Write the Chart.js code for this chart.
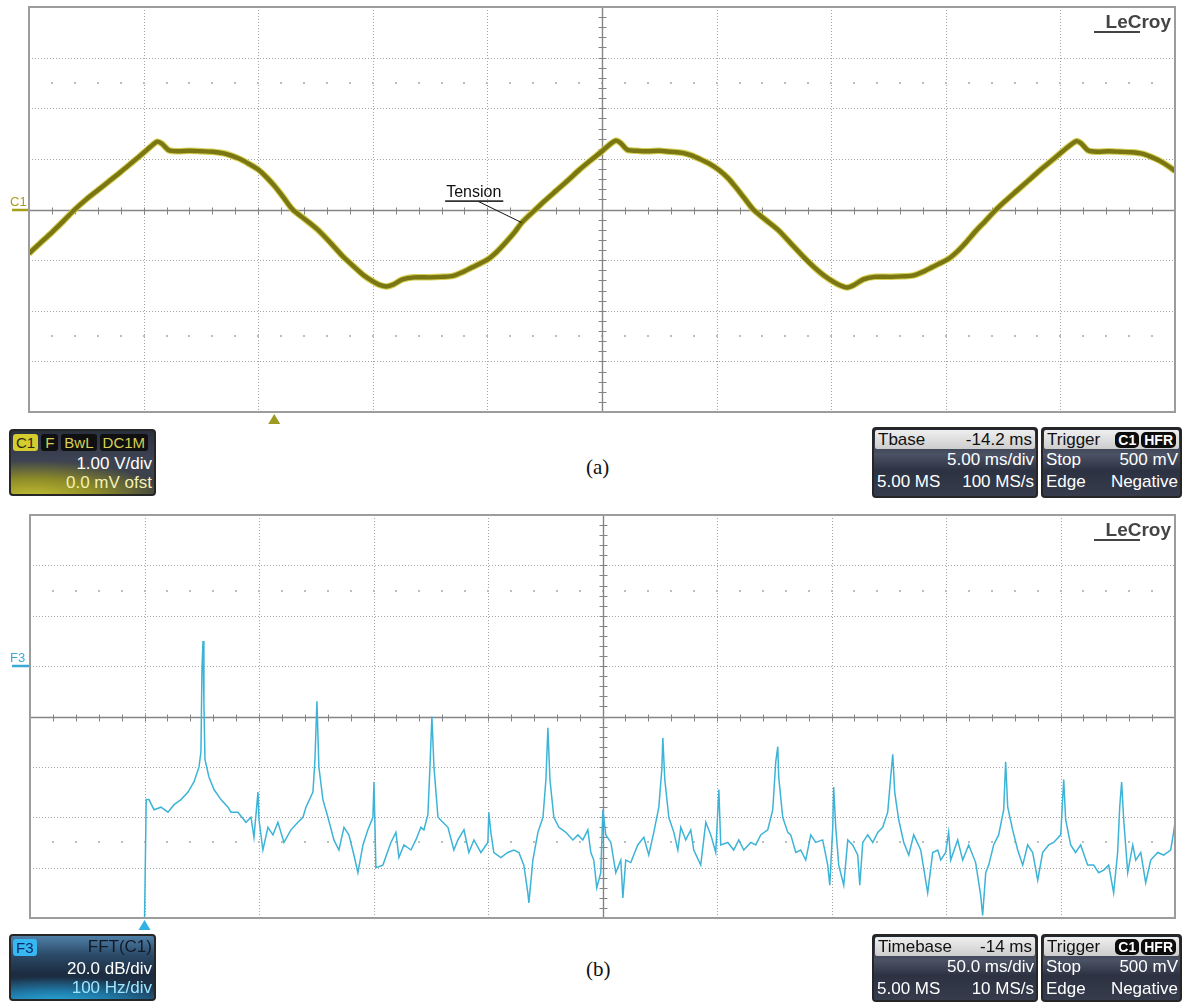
<!DOCTYPE html>
<html>
<head>
<meta charset="utf-8">
<script src="https://cdn.jsdelivr.net/npm/chart.js@4/dist/chart.umd.min.js"></script>
<style>
  html, body { margin: 0; padding: 0; background: #fff; }
  body { width: 1185px; height: 1004px; position: relative; overflow: hidden;
         font-family: "Liberation Sans", Arial, sans-serif; }
  canvas { position: absolute; left: 0; }
  #scope { top: 0; }
  #fft { top: 505px; }
  .box { position: absolute; box-sizing: border-box; border: 2px solid #262626; border-radius: 4px;
         overflow: hidden; font-size: 17px; }
  .dark { background: linear-gradient(to bottom, #202633 0%, #4b5264 38%, #2c3242 62%, #363c4b 100%); }
  .hdr { display: flex; justify-content: space-between; align-items: center; height: 19px; line-height: 19px;
         margin: 1px 1px 0; padding: 0 3px; border-radius: 2px; color: #111;
         background: linear-gradient(#efefef, #cdcdcd); }
  .row { display: flex; justify-content: space-between; height: 22px; line-height: 22px; padding: 0 2px 0 3px; color: #fff; }
  .row.r { justify-content: flex-end; }
  .pill { display: inline-block; background: #0c0c0c; color: #fff; border-radius: 5px; padding: 0 3px;
          font-size: 14px; line-height: 16px; font-weight: bold; margin-left: 2px; }
  .c1box { background:
      radial-gradient(ellipse 120% 75% at 15% 105%, #c2bf33 0%, #8f8d28 38%, rgba(70,74,60,0) 78%),
      linear-gradient(to bottom, #2a303e 0%, #3d4353 45%, #3b4040 100%); }
  .f3box { background:
      radial-gradient(ellipse 120% 60% at 30% 110%, #2fb7e6 0%, #1f7fae 35%, rgba(30,60,90,0) 75%),
      linear-gradient(to bottom, #4f7fa6 0%, #2b4a68 30%, #1c2c40 60%, #203a55 100%); }
  .tag { display: inline-block; border-radius: 3px; padding: 0 3px; font-size: 15px; line-height: 17px; margin-right: 3px; }
  .cap { position: absolute; font-family: "Liberation Serif", "Times New Roman", serif; font-size: 21px; color: #111; }
</style>
</head>
<body>
<canvas id="scope" width="1185" height="426"></canvas>
<canvas id="fft" width="1185" height="430"></canvas>

<!-- channel 1 descriptor -->
<div class="box c1box" style="left:9px;top:429px;width:147px;height:67px;">
  <div style="display:flex;align-items:center;height:20px;padding:1px 2px 0;">
    <span class="tag" style="background:#d5cc2e;color:#2a2a10;">C1</span>
    <span class="tag" style="background:#101010;color:#d8cf55;padding:0 4px;">F</span>
    <span class="tag" style="background:#101010;color:#d8cf55;">BwL</span>
    <span class="tag" style="background:#101010;color:#d8cf55;margin-right:0;">DC1M</span>
  </div>
  <div class="row r" style="height:21px;line-height:23px;">1.00 V/div</div>
  <div class="row r" style="height:21px;line-height:19px;color:#f3f0b0;">0.0 mV ofst</div>
</div>

<div class="box dark" style="left:872px;top:427px;width:166px;height:71px;">
  <div class="hdr"><span>Tbase</span><span>-14.2 ms</span></div>
  <div class="row r">5.00 ms/div</div>
  <div class="row"><span>5.00 MS</span><span>100 MS/s</span></div>
</div>
<div class="box dark" style="left:1041px;top:427px;width:141px;height:71px;">
  <div class="hdr"><span>Trigger</span><span><span class="pill">C1</span><span class="pill">HFR</span></span></div>
  <div class="row"><span>Stop</span><span>500 mV</span></div>
  <div class="row"><span>Edge</span><span>Negative</span></div>
</div>
<div class="cap" style="left:586px;top:455px;">(a)</div>

<!-- math trace descriptor -->
<div class="box f3box" style="left:9px;top:934px;width:147px;height:67px;">
  <div style="display:flex;justify-content:space-between;align-items:center;height:20px;padding:1px 2px 0;">
    <span class="tag" style="background:#36b8f2;color:#0b2b66;">F3</span>
    <span style="color:#121a28;">FFT(C1)</span>
  </div>
  <div class="row r" style="height:21px;line-height:23px;">20.0 dB/div</div>
  <div class="row r" style="height:21px;line-height:19px;color:#9fe6ff;">100 Hz/div</div>
</div>

<div class="box dark" style="left:872px;top:934px;width:166px;height:68px;">
  <div class="hdr"><span>Timebase</span><span>-14 ms</span></div>
  <div class="row r">50.0 ms/div</div>
  <div class="row"><span>5.00 MS</span><span>10 MS/s</span></div>
</div>
<div class="box dark" style="left:1041px;top:934px;width:141px;height:68px;">
  <div class="hdr"><span>Trigger</span><span><span class="pill">C1</span><span class="pill">HFR</span></span></div>
  <div class="row"><span>Stop</span><span>500 mV</span></div>
  <div class="row"><span>Edge</span><span>Negative</span></div>
</div>
<div class="cap" style="left:586px;top:957px;">(b)</div>

<script>
// ---- Channel 1: line voltage, 5 ms/div, 1 V/div ----
const timeMs = [
  0, 0.5, 1, 1.5, 2, 2.5, 3, 3.5, 4, 4.5,
  5, 5.3, 5.6, 5.8, 6.1, 6.5, 7, 7.5, 8, 8.5,
  8.8, 9.2, 9.6, 10, 10.4, 10.7, 11.1, 11.5, 12, 12.6,
  13.2, 13.7, 14.2, 14.6, 15, 15.3, 15.6, 15.9, 16.3, 16.8,
  17.5, 18, 18.5, 19, 19.3, 20, 20.4, 20.8, 21.2, 21.5,
  22.1, 22.5, 23, 23.5, 24, 24.5, 25, 25.3, 25.6, 25.8,
  26.1, 26.5, 27, 27.5, 28, 28.5, 28.9, 29.3, 29.7, 30.1,
  30.5, 30.8, 31.2, 31.6, 32.1, 32.7, 33.3, 33.8, 34.3, 34.7,
  35.1, 35.4, 35.7, 36, 36.4, 36.9, 37.6, 38.1, 38.6, 39.1,
  39.4, 40.1, 40.5, 40.9, 41.3, 41.7, 42.2, 42.6, 43.1, 43.6,
  44.1, 44.6, 45.1, 45.4, 45.7, 45.9, 46.2, 46.6, 47.1, 47.6,
  48.1, 48.6, 48.9, 49.3, 49.7, 50
];
const volts = [
  -0.87, -0.66, -0.45, -0.23, 0.00, 0.20, 0.38, 0.56, 0.74, 0.93,
  1.12, 1.24, 1.34, 1.30, 1.17, 1.15, 1.16, 1.15, 1.14, 1.11,
  1.07, 1.00, 0.90, 0.79, 0.62, 0.47, 0.24, 0.00, -0.18, -0.40,
  -0.68, -0.93, -1.14, -1.30, -1.42, -1.49, -1.52, -1.48, -1.38, -1.34,
  -1.34, -1.33, -1.31, -1.22, -1.15, -0.99, -0.84, -0.65, -0.44, -0.26,
  0.00, 0.17, 0.37, 0.57, 0.78, 0.97, 1.15, 1.27, 1.36, 1.32,
  1.18, 1.16, 1.15, 1.16, 1.14, 1.12, 1.07, 0.99, 0.90, 0.78,
  0.62, 0.46, 0.23, 0.00, -0.19, -0.41, -0.70, -0.94, -1.16, -1.31,
  -1.43, -1.50, -1.54, -1.49, -1.38, -1.33, -1.33, -1.32, -1.30, -1.21,
  -1.14, -0.98, -0.83, -0.64, -0.43, -0.24, 0.00, 0.17, 0.37, 0.57,
  0.77, 0.96, 1.15, 1.26, 1.35, 1.31, 1.17, 1.14, 1.15, 1.14,
  1.13, 1.10, 1.05, 0.97, 0.86, 0.76
];
const timeRangeMs = [0, 50];
const voltRange = [-4, 4];
const triggerTimeMs = 10.7;

// ---- F3: FFT of channel 1, 100 Hz/div, 20 dB/div ----
const freqHz = [
  0, 1.5, 3.9, 8.3, 14.4, 20.5, 25.8, 31.9, 38.0, 43.2,
  47.6, 49.3, 50.2, 51.1, 51.9, 52.8, 56.3, 60.7, 66.8, 72.9,
  75.5, 81.6, 88.6, 93.0, 95.6, 99.1, 100.0, 103.4, 107.8, 112.2,
  116.5, 121.8, 127.9, 134.0, 138.4, 141.0, 147.1, 148.8, 150.6, 152.3,
  155.8, 160.2, 165.4, 169.8, 174.2, 178.5, 182.9, 186.4, 190.8, 195.1,
  199.5, 200.4, 202.1, 208.2, 215.2, 219.6, 222.2, 226.6, 232.7, 237.0,
  241.4, 244.0, 247.5, 249.3, 251.0, 252.8, 256.3, 260.6, 265.0, 270.2,
  273.7, 279.0, 283.3, 287.7, 293.8, 299.9, 300.7, 302.5, 305.1, 311.2,
  317.3, 322.6, 327.0, 331.3, 334.8, 335.7, 339.2, 343.6, 348.0, 350.6,
  352.3, 354.1, 357.5, 361.9, 368.0, 374.1, 378.5, 382.8, 387.2, 389.8,
  392.4, 395.0, 398.5, 400.3, 402.9, 407.3, 411.6, 416.0, 417.8, 420.3,
  424.7, 430.8, 436.1, 440.4, 444.8, 449.2, 451.8, 452.7, 454.4, 457.9,
  462.3, 465.8, 468.4, 472.7, 477.1, 479.7, 485.8, 490.2, 494.6, 498.9,
  501.6, 503.3, 509.4, 514.6, 519.0, 523.4, 529.5, 533.8, 538.2, 544.3,
  548.7, 551.3, 553.1, 553.9, 557.4, 561.8, 564.4, 568.8, 573.1, 577.5,
  581.9, 586.2, 592.3, 596.7, 598.5, 601.1, 601.9, 603.7, 606.3, 610.7,
  614.2, 618.5, 622.9, 624.7, 627.3, 631.6, 636.0, 640.4, 644.7, 649.1,
  651.7, 653.5, 655.2, 658.7, 663.1, 667.5, 671.8, 677.9, 684.0, 688.4,
  692.8, 695.4, 699.7, 702.3, 704.1, 710.2, 714.6, 719.8, 725.9, 730.3,
  732.0, 734.7, 737.3, 741.6, 746.0, 750.4, 752.1, 753.9, 758.2, 762.6,
  767.0, 771.3, 775.7, 780.1, 784.4, 789.7, 794.0, 800.2, 802.8, 804.5,
  808.9, 813.2, 817.6, 823.7, 829.0, 833.3, 837.7, 842.1, 846.4, 849.9,
  851.7, 853.4, 855.2, 858.7, 863.1, 865.7, 870.1, 874.4, 878.8, 884.9,
  890.1, 896.2, 898.8, 900
];
const levelDb = [
  -82, -33, -33, -37, -36, -38, -35, -33, -30, -26,
  -20, -14, 19, 30, 5.5, -17, -24, -29, -33, -36,
  -38, -38, -42, -40, -48, -30, -41, -53, -44, -47,
  -42, -50, -45, -42, -40, -36, -30, -18, 6, -20,
  -33, -40, -49, -53, -44, -47, -55, -62, -51, -45,
  -40, -26, -60, -59, -50, -46, -56, -51, -53, -49,
  -44, -45, -39, -20, 0, -20, -40, -42, -44, -53,
  -49, -45, -54, -49, -54, -50, -38, -46, -54, -56,
  -54, -53, -54, -59, -70, -74, -57, -46, -40, -25,
  -4.5, -25, -40, -44, -46, -49, -47, -49, -45, -54,
  -57, -68, -62, -37, -47, -50, -62, -57, -72, -57,
  -58, -51, -48, -55, -46, -36, -21, -8.5, -25, -40,
  -46, -53, -44, -49, -45, -53, -59, -42, -47, -54,
  -29, -51, -50, -53, -49, -53, -50, -51, -47, -45,
  -37, -18, -12, -24, -40, -46, -47, -54, -53, -57,
  -47, -50, -49, -59, -67, -44, -28, -44, -59, -67,
  -49, -51, -55, -67, -50, -47, -50, -46, -44, -38,
  -24, -15, -30, -41, -50, -55, -47, -53, -70, -54,
  -53, -57, -54, -46, -57, -49, -57, -51, -58, -71,
  -79, -62, -59, -51, -47, -37, -18, -36, -45, -53,
  -59, -51, -54, -65, -54, -51, -50, -47, -25, -41,
  -51, -54, -51, -59, -59, -62, -61, -59, -70, -54,
  -36, -26, -41, -62, -51, -57, -54, -66, -57, -54,
  -55, -53, -46, -42
];
const freqRangeHz = [-100, 900];
const dbRange = [-80, 80];
const fftReferenceDb = 20;
const fftStartHz = 0;

const half = v => Math.round(v) + 0.5;

// Oscilloscope graticule: 10 x 8 dotted divisions, centre cross with 1/5 ticks, frame
const graticule = {
  id: 'graticule',
  beforeDatasetsDraw(chart) {
    const { ctx, chartArea: a, scales: { x, y } } = chart;
    const xs = (x.max - x.min) / 10, ys = (y.max - y.min) / 8;
    const xc = (x.max + x.min) / 2, yc = (y.max + y.min) / 2;
    ctx.save();
    ctx.strokeStyle = '#a4a4a4';
    ctx.lineWidth = 1;
    ctx.setLineDash([1, 2]);
    ctx.beginPath();
    for (let i = 1; i < 10; i++) {
      if (i === 5) continue;
      const X = half(x.getPixelForValue(x.min + i * xs));
      ctx.moveTo(X, a.top); ctx.lineTo(X, a.bottom);
    }
    for (let j = 1; j < 8; j++) {
      if (j === 4) continue;
      const Y = half(y.getPixelForValue(y.min + j * ys));
      ctx.moveTo(a.left, Y); ctx.lineTo(a.right, Y);
    }
    ctx.stroke();
    ctx.setLineDash([]);
    // dotted rows 2.5 divisions either side of centre
    ctx.fillStyle = '#bdbdbd';
    [yc - 2.5 * ys, yc + 2.5 * ys].forEach(v => {
      const Y = Math.round(y.getPixelForValue(v));
      for (let i = 1; i < 50; i++) {
        const X = Math.round(x.getPixelForValue(x.min + i * xs / 5));
        ctx.fillRect(X - 1, Y - 1, 2, 2);
      }
    });
    // centre cross
    const X0 = half(x.getPixelForValue(xc)), Y0 = half(y.getPixelForValue(yc));
    ctx.strokeStyle = '#858585';
    ctx.lineWidth = 1.4;
    ctx.beginPath();
    ctx.moveTo(a.left, Y0); ctx.lineTo(a.right, Y0);
    ctx.moveTo(X0, a.top); ctx.lineTo(X0, a.bottom);
    ctx.stroke();
    ctx.lineWidth = 1;
    ctx.beginPath();
    for (let i = 1; i < 50; i++) {
      const X = half(x.getPixelForValue(x.min + i * xs / 5));
      ctx.moveTo(X, Y0 - 3); ctx.lineTo(X, Y0 + 4);
    }
    for (let j = 1; j < 40; j++) {
      const Y = half(y.getPixelForValue(y.min + j * ys / 5));
      ctx.moveTo(X0 - 4, Y); ctx.lineTo(X0 + 4, Y);
    }
    ctx.stroke();
    ctx.restore();
  },
  afterDatasetsDraw(chart) {
    const { ctx, chartArea: a } = chart;
    ctx.save();
    ctx.strokeStyle = '#9c9c9c';
    ctx.lineWidth = 2;
    ctx.strokeRect(a.left, a.top, a.right - a.left, a.bottom - a.top);
    ctx.restore();
  }
};

// Channel reference marker, trigger arrow, brand text and trace annotation
const scopeMarks = {
  id: 'scopeMarks',
  afterDraw(chart, args, o) {
    const { ctx, chartArea: a, scales: { x, y } } = chart;
    ctx.save();
    // channel marker on the left edge
    const ry = Math.round(y.getPixelForValue(o.refValue));
    ctx.fillStyle = o.color;
    ctx.font = '13px "Liberation Sans", Arial, sans-serif';
    ctx.textBaseline = 'alphabetic';
    ctx.fillText(o.label, 10, ry - 4);
    ctx.strokeStyle = o.color;
    ctx.lineWidth = 2.5;
    ctx.beginPath();
    ctx.moveTo(12, ry); ctx.lineTo(a.left - 1, ry);
    ctx.stroke();
    // trigger arrow below the grid
    const tx = x.getPixelForValue(o.trigger);
    ctx.fillStyle = o.arrowColor;
    ctx.beginPath();
    ctx.moveTo(tx, a.bottom + 2);
    ctx.lineTo(tx + 6, a.bottom + 12);
    ctx.lineTo(tx - 6, a.bottom + 12);
    ctx.closePath();
    ctx.fill();
    // brand
    ctx.fillStyle = '#444';
    ctx.font = 'bold 19px "Liberation Sans", Arial, sans-serif';
    ctx.textAlign = 'right';
    ctx.fillText('LeCroy', a.right - 4, a.top + 21);
    ctx.fillRect(a.right - 81, a.top + 24, 46, 2);
    // annotation
    if (o.note) {
      const n = o.note;
      const lx = x.getPixelForValue(n.textAt[0]), ly = y.getPixelForValue(n.textAt[1]);
      ctx.textAlign = 'left';
      ctx.fillStyle = '#111';
      ctx.font = '16px "Liberation Sans", Arial, sans-serif';
      ctx.fillText(n.text, lx, ly);
      const w = ctx.measureText(n.text).width;
      ctx.fillRect(lx - 1, ly + 3, w + 3, 1.5);
      ctx.strokeStyle = '#111';
      ctx.lineWidth = 1;
      ctx.beginPath();
      ctx.moveTo(x.getPixelForValue(n.from[0]), y.getPixelForValue(n.from[1]));
      ctx.lineTo(x.getPixelForValue(n.to[0]), y.getPixelForValue(n.to[1]));
      ctx.stroke();
    }
    ctx.restore();
  }
};

const hiddenScale = (r) => ({ type: 'linear', min: r[0], max: r[1], display: false });

const scopeData = timeMs.map((t, i) => ({ x: t, y: volts[i] }));
new Chart(document.getElementById('scope'), {
  type: 'line',
  data: {
    datasets: [
      // olive trace on top of a thin yellow halo (higher order is drawn first)
      { data: scopeData, borderColor: '#7a7614', borderWidth: 4.4, pointRadius: 0, tension: 0.25, order: 1 },
      { data: scopeData, borderColor: 'rgba(205,200,50,0.85)', borderWidth: 6.5, pointRadius: 0, tension: 0.25, order: 2 }
    ]
  },
  options: {
    responsive: false, animation: false, devicePixelRatio: 1,
    layout: { padding: { left: 29, top: 7, right: 10, bottom: 14 } },
    scales: { x: hiddenScale(timeRangeMs), y: hiddenScale(voltRange) },
    plugins: {
      legend: { display: false }, tooltip: { enabled: false },
      scopeMarks: {
        label: 'C1', color: '#a59d1c', refValue: 0, trigger: triggerTimeMs, arrowColor: '#9d9a22',
        note: { text: 'Tension', textAt: [18.2, 0.24], from: [19.6, 0.16], to: [21.5, -0.26] }
      }
    }
  },
  plugins: [graticule, scopeMarks]
});

new Chart(document.getElementById('fft'), {
  type: 'line',
  data: {
    datasets: [{
      data: freqHz.map((f, i) => ({ x: f, y: levelDb[i] })),
      borderColor: '#3db4d7', borderWidth: 1.5, pointRadius: 0, tension: 0
    }]
  },
  options: {
    responsive: false, animation: false, devicePixelRatio: 1,
    layout: { padding: { left: 30, top: 10, right: 10, bottom: 17 } },
    scales: { x: hiddenScale(freqRangeHz), y: hiddenScale(dbRange) },
    plugins: {
      legend: { display: false }, tooltip: { enabled: false },
      scopeMarks: { label: 'F3', color: '#3aa9d8', refValue: fftReferenceDb, trigger: fftStartHz, arrowColor: '#2fb1e4' }
    }
  },
  plugins: [graticule, scopeMarks]
});
</script>
</body>
</html>
